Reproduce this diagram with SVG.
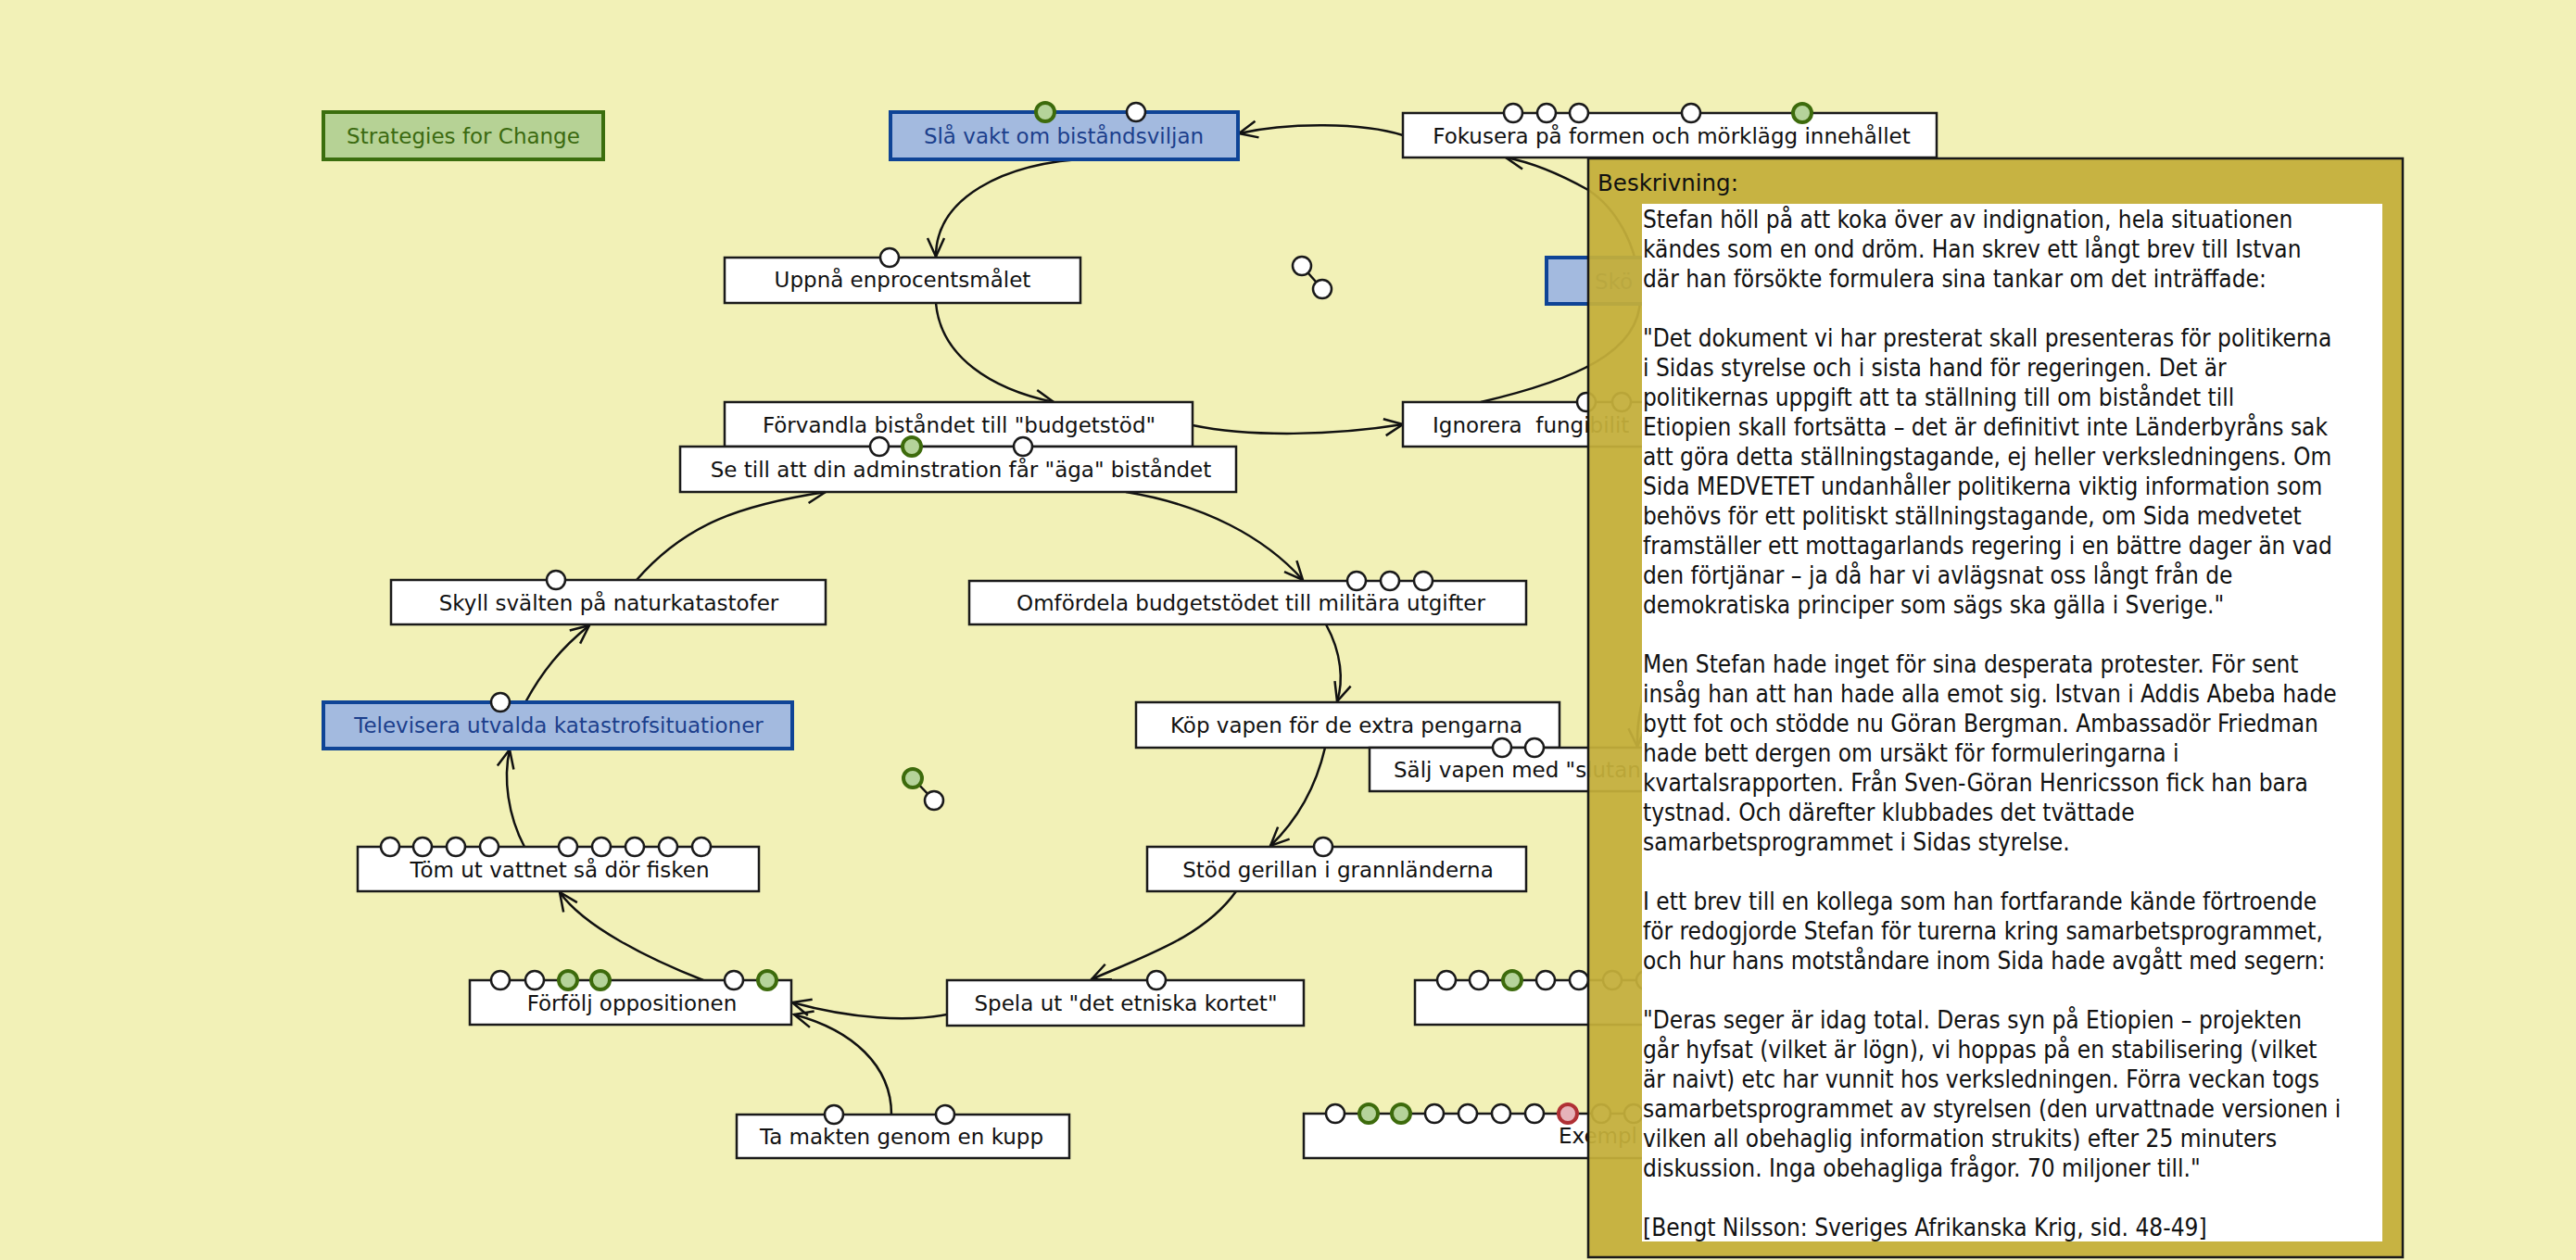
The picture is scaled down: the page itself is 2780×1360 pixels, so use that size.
<svg xmlns="http://www.w3.org/2000/svg" width="2780" height="1360" viewBox="0 0 2780 1360">
<defs>
<style>
.bg{fill:#f2f1b7}
.n rect{fill:#fff;stroke:#1a1a1a;stroke-width:2.5}
.b rect{fill:#a3badf;stroke:#0f4496;stroke-width:4}
.g rect{fill:#b6d295;stroke:#3b6e0e;stroke-width:4}
text{font-family:"DejaVu Sans","Liberation Sans",sans-serif;white-space:pre}
.t{font-size:23px;fill:#111;text-anchor:middle}
.ts{font-size:23px;fill:#111}
.b .t,.b .ts{fill:#1c3f8c}
.g .t{fill:#3b6a10}
.pw{fill:#fff;stroke:#1a1a1a;stroke-width:2.5}
.pg{fill:#b5d39a;stroke:#3d6b0c;stroke-width:4}
.pr{fill:#e6b3ba;stroke:#b03035;stroke-width:4}
.c path{fill:none;stroke:#111;stroke-width:2.5;marker-end:url(#ah)}
.ln{stroke:#111;stroke-width:2.5}
.pt{font-family:"DejaVu Sans Condensed","DejaVu Sans",sans-serif;font-stretch:condensed;font-size:26px;fill:#111}
.ph{font-size:24.5px;fill:#111}
</style>
<marker id="ah" viewBox="-22 -12 24 24" refX="0" refY="0" markerWidth="24" markerHeight="24" markerUnits="userSpaceOnUse" orient="auto">
<path d="M-20,-9 L0,0 L-20,9" fill="none" stroke="#111" stroke-width="2.5"/>
</marker>
</defs>
<rect class="bg" x="0" y="0" width="2780" height="1360"/>

<g id="connectors" class="c">
<path d="M1514,146 C1470,132 1390,132 1337,144"/>
<path d="M1180,171 C1080,175 1010,215 1010,277"/>
<path d="M1010,327 C1015,385 1070,420 1137,434"/>
<path d="M1287,459 C1350,472 1440,470 1514,458"/>
<path d="M1215,531 C1300,545 1365,580 1406,626"/>
<path d="M1431,674 C1448,705 1450,735 1443,757"/>
<path d="M1430,807 C1420,850 1400,885 1371,913"/>
<path d="M1334,962 C1300,1010 1240,1030 1178,1057"/>
<path d="M1022,1095 C980,1103 920,1100 855,1082"/>
<path d="M962,1203 C962,1150 920,1112 857,1095"/>
<path d="M759,1058 C700,1035 630,1000 604,963"/>
<path d="M566,914 C548,880 543,840 550,809"/>
<path d="M567,758 C585,725 605,700 636,675"/>
<path d="M687,626 C740,565 800,545 891,531"/>
<path d="M1598,434 C1700,410 1770,380 1770,322 C1770,262 1740,222 1714,205 C1680,186 1652,175 1625,170"/>
<path d="M1800,690 C1775,735 1766,770 1767,806"/>
</g>

<g id="n-strategies" class="g"><rect x="349" y="121" width="302" height="51"/><text class="t" x="500" y="155">Strategies for Change</text></g>

<g id="n-slavakt" class="b"><rect x="961" y="121" width="375" height="51"/><text class="t" x="1148" y="155">Slå vakt om biståndsviljan</text>
<circle class="pg" cx="1128" cy="121" r="10"/><circle class="pw" cx="1226" cy="121" r="10"/></g>

<g id="n-fokusera" class="n"><rect x="1514" y="122" width="576" height="48"/><text class="t" x="1804" y="155">Fokusera på formen och mörklägg innehållet</text>
<circle class="pw" cx="1633" cy="122" r="10"/><circle class="pw" cx="1669" cy="122" r="10"/><circle class="pw" cx="1704" cy="122" r="10"/><circle class="pw" cx="1825" cy="122" r="10"/><circle class="pg" cx="1945" cy="122" r="10"/></g>

<g id="n-uppna" class="n"><rect x="782" y="278" width="384" height="49"/><text class="t" x="974" y="310">Uppnå enprocentsmålet</text>
<circle class="pw" cx="960" cy="278" r="10"/></g>

<g id="n-sko" class="b"><rect x="1669" y="278" width="160" height="50"/><text class="ts" x="1721" y="312">Skö</text></g>

<g id="pair1"><line class="ln" x1="1405" y1="287" x2="1427" y2="312"/><circle class="pw" cx="1405" cy="287" r="10"/><circle class="pw" cx="1427" cy="312" r="10"/></g>

<g id="n-forvandla" class="n"><rect x="782" y="434" width="505" height="48"/><text class="t" x="1035" y="467">Förvandla biståndet till "budgetstöd"</text></g>

<g id="n-ignorera" class="n"><rect x="1514" y="434" width="290" height="48"/><text class="ts" x="1546" y="467">Ignorera  fungibilit</text>
<circle class="pw" cx="1712" cy="434" r="10"/><circle class="pw" cx="1750" cy="434" r="10"/></g>

<g id="n-setill" class="n"><rect x="734" y="482" width="600" height="49"/><text class="t" x="1037" y="515">Se till att din adminstration får "äga" biståndet</text>
<circle class="pw" cx="949" cy="482" r="10"/><circle class="pg" cx="984" cy="482" r="10"/><circle class="pw" cx="1104" cy="482" r="10"/></g>

<g id="n-skyll" class="n"><rect x="422" y="626" width="469" height="48"/><text class="t" x="657" y="659">Skyll svälten på naturkatastofer</text>
<circle class="pw" cx="600" cy="626" r="10"/></g>

<g id="n-omfordela" class="n"><rect x="1046" y="627" width="601" height="47"/><text class="t" x="1350" y="659">Omfördela budgetstödet till militära utgifter</text>
<circle class="pw" cx="1464" cy="627" r="10"/><circle class="pw" cx="1500" cy="627" r="10"/><circle class="pw" cx="1536" cy="627" r="10"/></g>

<g id="n-televisera" class="b"><rect x="349" y="758" width="506" height="50"/><text class="t" x="603" y="791">Televisera utvalda katastrofsituationer</text>
<circle class="pw" cx="540" cy="758" r="10"/></g>

<g id="n-kop" class="n"><rect x="1226" y="758" width="457" height="49"/><text class="t" x="1453" y="791">Köp vapen för de extra pengarna</text></g>

<g id="n-salj" class="n"><rect x="1478" y="807" width="330" height="47"/><text class="ts" x="1504" y="839">Sälj vapen med "slutanv</text>
<circle class="pw" cx="1621" cy="807" r="10"/><circle class="pw" cx="1656" cy="807" r="10"/></g>

<g id="pair2"><line class="ln" x1="985" y1="840" x2="1008" y2="864"/><circle class="pg" cx="985" cy="840" r="10"/><circle class="pw" cx="1008" cy="864" r="10"/></g>

<g id="n-tom" class="n"><rect x="386" y="914" width="433" height="48"/><text class="t" x="604" y="947">Töm ut vattnet så dör fisken</text>
<circle class="pw" cx="421" cy="914" r="10"/><circle class="pw" cx="456" cy="914" r="10"/><circle class="pw" cx="492" cy="914" r="10"/><circle class="pw" cx="528" cy="914" r="10"/><circle class="pw" cx="613" cy="914" r="10"/><circle class="pw" cx="649" cy="914" r="10"/><circle class="pw" cx="685" cy="914" r="10"/><circle class="pw" cx="721" cy="914" r="10"/><circle class="pw" cx="757" cy="914" r="10"/></g>

<g id="n-stod" class="n"><rect x="1238" y="914" width="409" height="48"/><text class="t" x="1444" y="947">Stöd gerillan i grannländerna</text>
<circle class="pw" cx="1428" cy="914" r="10"/></g>

<g id="n-forfolj" class="n"><rect x="507" y="1058" width="347" height="48"/><text class="t" x="682" y="1091">Förfölj oppositionen</text>
<circle class="pw" cx="540" cy="1058" r="10"/><circle class="pw" cx="577" cy="1058" r="10"/><circle class="pg" cx="613" cy="1058" r="10"/><circle class="pg" cx="648" cy="1058" r="10"/><circle class="pw" cx="792" cy="1058" r="10"/><circle class="pg" cx="828" cy="1058" r="10"/></g>

<g id="n-spela" class="n"><rect x="1022" y="1058" width="385" height="49"/><text class="t" x="1215" y="1091">Spela ut "det etniska kortet"</text>
<circle class="pw" cx="1248" cy="1058" r="10"/></g>

<g id="n-lowright" class="n"><rect x="1527" y="1058" width="300" height="48"/>
<circle class="pw" cx="1561" cy="1058" r="10"/><circle class="pw" cx="1596" cy="1058" r="10"/><circle class="pg" cx="1632" cy="1058" r="10"/><circle class="pw" cx="1668" cy="1058" r="10"/><circle class="pw" cx="1704" cy="1058" r="10"/><circle class="pw" cx="1740" cy="1058" r="10"/><circle class="pw" cx="1776" cy="1058" r="10"/></g>

<g id="n-tamakten" class="n"><rect x="795" y="1203" width="359" height="47"/><text class="t" x="973" y="1235">Ta makten genom en kupp</text>
<circle class="pw" cx="900" cy="1203" r="10"/><circle class="pw" cx="1020" cy="1203" r="10"/></g>

<g id="n-exempel" class="n"><rect x="1407" y="1202" width="420" height="48"/><text class="ts" x="1682" y="1234">Exempl</text>
<circle class="pw" cx="1441" cy="1202" r="10"/><circle class="pg" cx="1477" cy="1202" r="10"/><circle class="pg" cx="1512" cy="1202" r="10"/><circle class="pw" cx="1548" cy="1202" r="10"/><circle class="pw" cx="1584" cy="1202" r="10"/><circle class="pw" cx="1620" cy="1202" r="10"/><circle class="pw" cx="1656" cy="1202" r="10"/><circle class="pr" cx="1692" cy="1202" r="10"/><circle class="pw" cx="1728" cy="1202" r="10"/><circle class="pw" cx="1763" cy="1202" r="10"/></g>

<g id="panel">
<rect x="1714" y="171" width="879" height="1186" fill="#c4ae3a" fill-opacity="0.94" stroke="#1a1a1a" stroke-width="2.5"/>
<rect x="1772" y="220" width="799" height="1120" fill="#fff"/>
<text class="ph" x="1724" y="206">Beskrivning:</text>
<text class="pt" x="1773">
<tspan x="1773" y="246">Stefan höll på att koka över av indignation, hela situationen</tspan>
<tspan x="1773" y="278">kändes som en ond dröm. Han skrev ett långt brev till Istvan</tspan>
<tspan x="1773" y="310">där han försökte formulera sina tankar om det inträffade:</tspan>
<tspan x="1773" y="374">"Det dokument vi har presterat skall presenteras för politikerna</tspan>
<tspan x="1773" y="406">i Sidas styrelse och i sista hand för regeringen. Det är</tspan>
<tspan x="1773" y="438">politikernas uppgift att ta ställning till om biståndet till</tspan>
<tspan x="1773" y="470">Etiopien skall fortsätta – det är definitivt inte Länderbyråns sak</tspan>
<tspan x="1773" y="502">att göra detta ställningstagande, ej heller verksledningens. Om</tspan>
<tspan x="1773" y="534">Sida MEDVETET undanhåller politikerna viktig information som</tspan>
<tspan x="1773" y="566">behövs för ett politiskt ställningstagande, om Sida medvetet</tspan>
<tspan x="1773" y="598">framställer ett mottagarlands regering i en bättre dager än vad</tspan>
<tspan x="1773" y="630">den förtjänar – ja då har vi avlägsnat oss långt från de</tspan>
<tspan x="1773" y="662">demokratiska principer som sägs ska gälla i Sverige."</tspan>
<tspan x="1773" y="726">Men Stefan hade inget för sina desperata protester. För sent</tspan>
<tspan x="1773" y="758">insåg han att han hade alla emot sig. Istvan i Addis Abeba hade</tspan>
<tspan x="1773" y="790">bytt fot och stödde nu Göran Bergman. Ambassadör Friedman</tspan>
<tspan x="1773" y="822">hade bett dergen om ursäkt för formuleringarna i</tspan>
<tspan x="1773" y="854">kvartalsrapporten. Från Sven-Göran Henricsson fick han bara</tspan>
<tspan x="1773" y="886">tystnad. Och därefter klubbades det tvättade</tspan>
<tspan x="1773" y="918">samarbetsprogrammet i Sidas styrelse.</tspan>
<tspan x="1773" y="982">I ett brev till en kollega som han fortfarande kände förtroende</tspan>
<tspan x="1773" y="1014">för redogjorde Stefan för turerna kring samarbetsprogrammet,</tspan>
<tspan x="1773" y="1046">och hur hans motståndare inom Sida hade avgått med segern:</tspan>
<tspan x="1773" y="1110">"Deras seger är idag total. Deras syn på Etiopien – projekten</tspan>
<tspan x="1773" y="1142">går hyfsat (vilket är lögn), vi hoppas på en stabilisering (vilket</tspan>
<tspan x="1773" y="1174">är naivt) etc har vunnit hos verksledningen. Förra veckan togs</tspan>
<tspan x="1773" y="1206">samarbetsprogrammet av styrelsen (den urvattnade versionen i</tspan>
<tspan x="1773" y="1238">vilken all obehaglig information strukits) efter 25 minuters</tspan>
<tspan x="1773" y="1270">diskussion. Inga obehagliga frågor. 70 miljoner till."</tspan>
<tspan x="1773" y="1334">[Bengt Nilsson: Sveriges Afrikanska Krig, sid. 48-49]</tspan>
</text>
</g>
</svg>
